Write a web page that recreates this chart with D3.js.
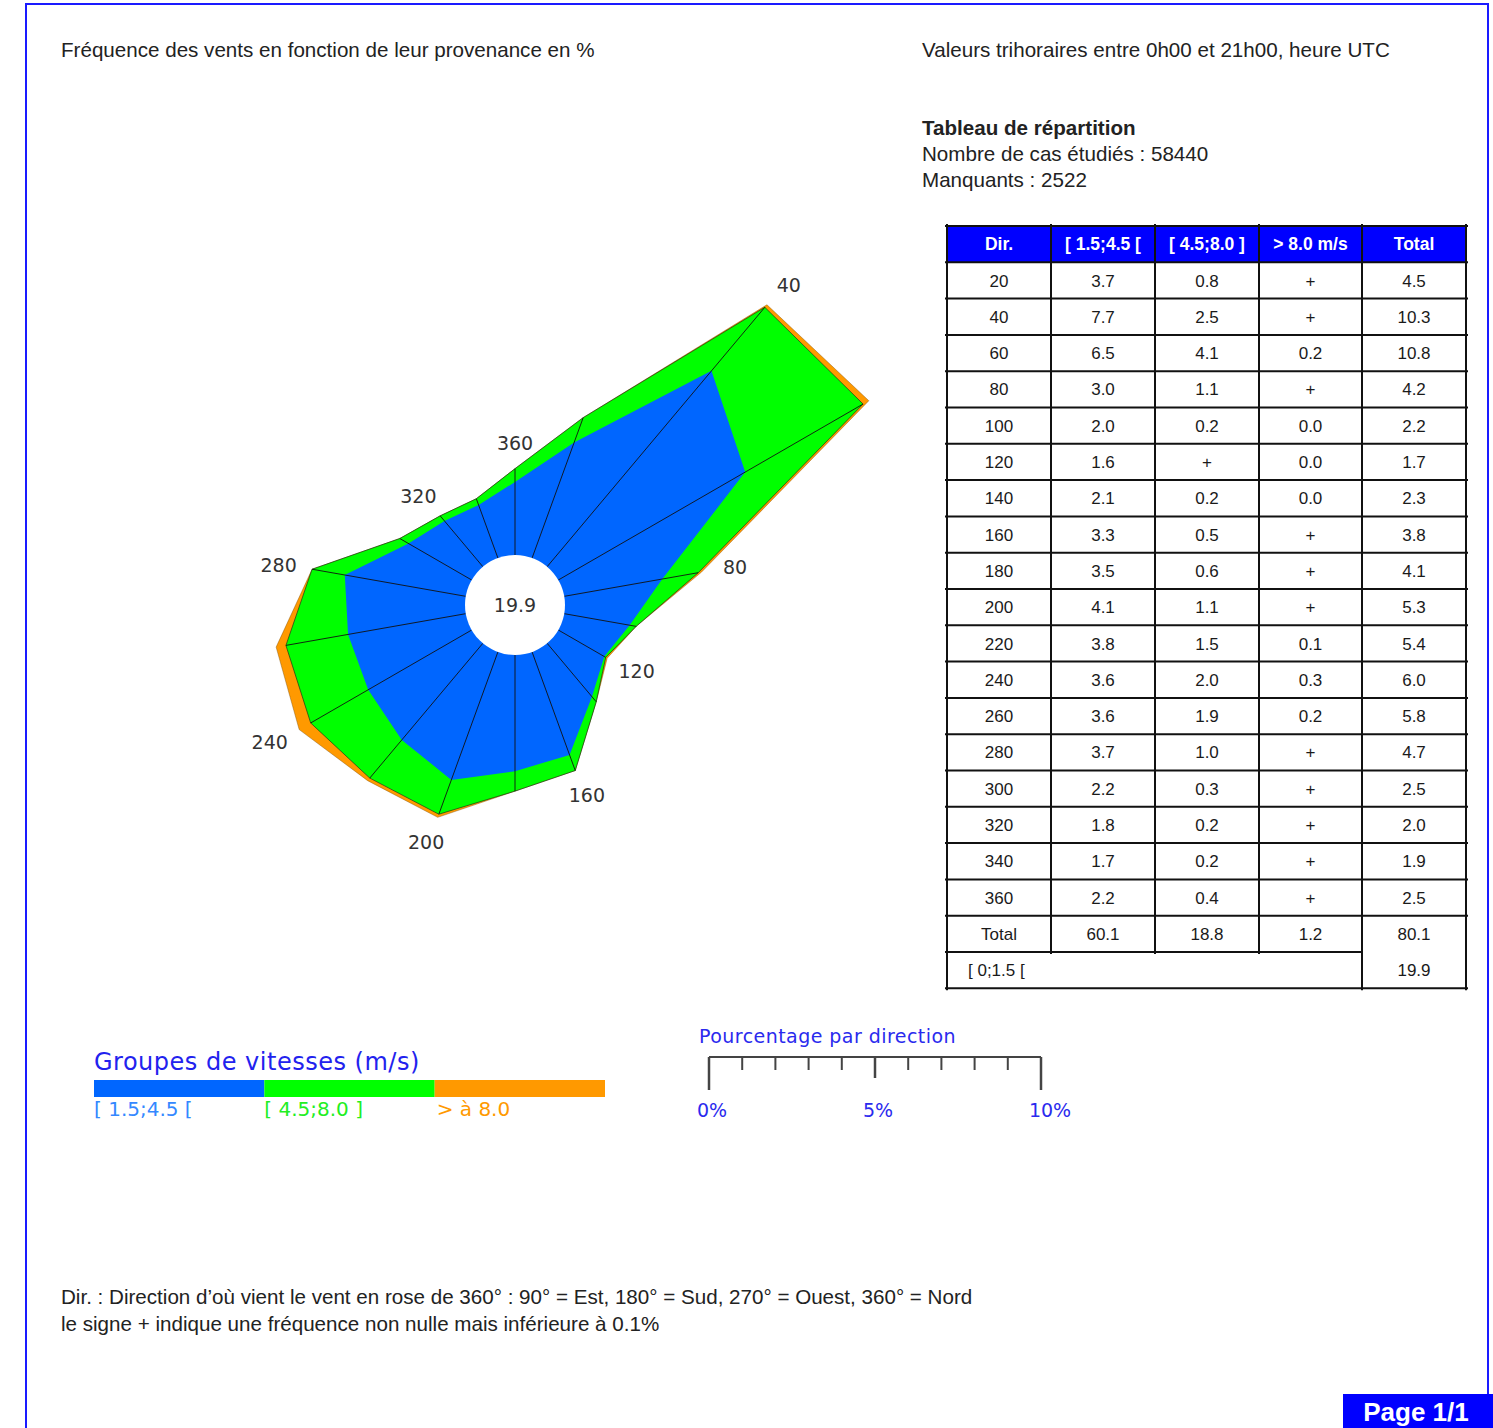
<!DOCTYPE html>
<html><head><meta charset="utf-8">
<script src="https://cdn.jsdelivr.net/npm/d3@7"></script>
<style>
html,body{margin:0;padding:0;background:#fff;}
svg{display:block;}
</style></head>
<body>
<script>
// ---------------- DATA ----------------
const directions = [20,40,60,80,100,120,140,160,180,200,220,240,260,280,300,320,340,360];
const speedLow   = ["3.7","7.7","6.5","3.0","2.0","1.6","2.1","3.3","3.5","4.1","3.8","3.6","3.6","3.7","2.2","1.8","1.7","2.2"];
const speedMid   = ["0.8","2.5","4.1","1.1","0.2","+","0.2","0.5","0.6","1.1","1.5","2.0","1.9","1.0","0.3","0.2","0.2","0.4"];
const speedHigh  = ["+","+","0.2","+","0.0","0.0","0.0","+","+","+","0.1","0.3","0.2","+","+","+","+","+"];
const totals     = ["4.5","10.3","10.8","4.2","2.2","1.7","2.3","3.8","4.1","5.3","5.4","6.0","5.8","4.7","2.5","2.0","1.9","2.5"];
const columnTotals = ["Total","60.1","18.8","1.2","80.1"];
const calmLabel = "[ 0;1.5 [";
const calmValue = "19.9";
const headers = ["Dir.","[ 1.5;4.5 [","[ 4.5;8.0 ]","> 8.0 m/s","Total"];
const roseLabels = [40,80,120,160,200,240,280,320,360];
const speedGroups = ["[ 1.5;4.5 [","[ 4.5;8.0 ]","> à 8.0"];
const scaleTicks = [0,1,2,3,4,5,6,7,8,9,10];
const scaleLabels = [0,5,10];
// ---------------------------------------

const W = 1493, H = 1428;
const num = s => s === "+" ? 0.05 : +s;
const blue = "#0066ff", green = "#00ff00", orange = "#ff9900";
const svg = d3.select("body").append("svg").attr("width", W).attr("height", H);

// frame
svg.append("rect").attr("x",26).attr("y",4).attr("width",1462).attr("height",1440)
  .attr("fill","none").attr("stroke","#1a1aff").attr("stroke-width",2);

const sans = "'Liberation Sans', Arial, sans-serif";
const dv = "'DejaVu Sans', Verdana, sans-serif";
const fs = 20.6;

function txt(x, y, s, bold){
  return svg.append("text").attr("x",x).attr("y",y).attr("font-family",sans).attr("font-size",fs)
    .attr("font-weight", bold ? "bold" : "normal").attr("fill","#222").text(s);
}
txt(61,57,"Fréquence des vents en fonction de leur provenance en %");
txt(922,57,"Valeurs trihoraires entre 0h00 et 21h00, heure UTC");
txt(922,135,"Tableau de répartition",true);
txt(922,161,"Nombre de cas étudiés : 58440");
txt(922,187,"Manquants : 2522");

// ---------------- ROSE ----------------
const cx = 515, cy = 605;
const r = d3.scaleLinear().domain([0,10]).range([50, 382]);
const rose = directions.map((d,i) => {
  const lo = num(speedLow[i]), mi = num(speedMid[i]), tot = num(totals[i]);
  return {dir:d, a: d*Math.PI/180, lo, lm: lo+mi, tot: Math.max(tot, lo+mi)};
});
const g = svg.append("g").attr("transform",`translate(${cx},${cy})`);
const radial = key => d3.lineRadial().angle(d=>d.a).radius(d=>r(d[key])).curve(d3.curveLinearClosed);
g.append("path").attr("d", radial("tot")(rose)).attr("fill",orange).attr("stroke","#7a4a00").attr("stroke-width",0.6).attr("stroke-opacity",0.7);
g.append("path").attr("d", radial("lm")(rose)).attr("fill",green).attr("stroke","#1a3a1a").attr("stroke-width",0.7);
g.append("path").attr("d", radial("lo")(rose)).attr("fill",blue);
g.selectAll("line.rad").data(rose).join("line").attr("class","rad")
  .attr("x1",d=>Math.sin(d.a)*r(0)).attr("y1",d=>-Math.cos(d.a)*r(0))
  .attr("x2",d=>Math.sin(d.a)*r(d.lm)).attr("y2",d=>-Math.cos(d.a)*r(d.lm))
  .attr("stroke","#111").attr("stroke-width",0.9);
g.append("circle").attr("r",r(0)).attr("fill","#fff");
g.append("text").attr("text-anchor","middle").attr("dy","0.36em").attr("font-family",dv).attr("font-size",19)
  .attr("fill","#333").text(calmValue);
// labels: offset beyond the outer vertex (wider horizontally than vertically)
const offH = 34, offV = 26;
g.selectAll("text.lab").data(rose.filter(d=>roseLabels.includes(d.dir))).join("text").attr("class","lab")
  .attr("x",d=>Math.sin(d.a)*(r(d.tot)+offH)).attr("y",d=>-Math.cos(d.a)*(r(d.tot)+offV))
  .attr("text-anchor","middle").attr("dy","0.36em").attr("font-family",dv).attr("font-size",19)
  .attr("fill","#333").text(d=>d.dir);

// ---------------- TABLE ----------------
const colX = [947,1051,1155,1259,1362,1466];
const tTop = 226, rowH = 36.3;
const tfs = 17;
const tbl = svg.append("g");
tbl.append("rect").attr("x",colX[0]).attr("y",tTop).attr("width",colX[5]-colX[0]).attr("height",rowH).attr("fill","#0000ff");
headers.forEach((h,j)=>{
  tbl.append("text").attr("x",(colX[j]+colX[j+1])/2).attr("y",tTop+rowH/2).attr("dy","0.36em")
    .attr("text-anchor","middle").attr("font-family",sans).attr("font-size",17.5).attr("font-weight","bold")
    .attr("fill","#fff").text(h);
});
const rows = directions.map((d,i)=>[String(d), speedLow[i], speedMid[i], speedHigh[i], totals[i]]);
rows.push(columnTotals);
rows.forEach((row,i)=>{
  row.forEach((v,j)=>{
    tbl.append("text").attr("x",(colX[j]+colX[j+1])/2).attr("y",tTop+rowH*(i+1.5)).attr("dy","0.36em")
      .attr("text-anchor","middle").attr("font-family",sans).attr("font-size",tfs).attr("fill","#1a1a1a").text(v);
  });
});
const calmRow = rows.length+1;
tbl.append("text").attr("x",colX[0]+21).attr("y",tTop+rowH*(calmRow+0.5)).attr("dy","0.36em")
  .attr("font-family",sans).attr("font-size",tfs).attr("fill","#1a1a1a").text(calmLabel);
tbl.append("text").attr("x",(colX[4]+colX[5])/2).attr("y",tTop+rowH*(calmRow+0.5)).attr("dy","0.36em")
  .attr("text-anchor","middle").attr("font-family",sans).attr("font-size",tfs).attr("fill","#1a1a1a").text(calmValue);
const nLines = calmRow+2;
const bottomY = tTop + rowH*(calmRow+1);
for(let k=0;k<nLines;k++){
  const y = tTop + rowH*k;
  tbl.append("line").attr("x1",colX[0]-2).attr("x2",(k===calmRow)?colX[4]:colX[5]+2).attr("y1",y).attr("y2",y)
    .attr("stroke","#111").attr("stroke-width",2);
}
colX.forEach((x,j)=>{
  const y2 = (j===0||j===4||j===5) ? bottomY : tTop + rowH*calmRow;
  tbl.append("line").attr("x1",x).attr("x2",x).attr("y1",tTop-2).attr("y2",y2+2)
    .attr("stroke","#111").attr("stroke-width",2);
});

// ---------------- LEGEND ----------------
const legColors = [blue, green, orange];
const labColors = ["#3388ff","#22ee22","#ff9900"];
const legX = d3.scaleLinear().domain([0,3]).range([94,605]);
svg.append("text").attr("x",94).attr("y",1070).attr("font-family",dv).attr("font-size",24)
  .attr("letter-spacing",0.5).attr("fill","#2222ee").text("Groupes de vitesses (m/s)");
speedGroups.forEach((s,i)=>{
  svg.append("rect").attr("x",legX(i)).attr("y",1080).attr("width",legX(i+1)-legX(i)).attr("height",17).attr("fill",legColors[i]);
  svg.append("text").attr("x",legX(i)+(i===2?2:0)).attr("y",1116).attr("font-family",dv).attr("font-size",20)
    .attr("fill",labColors[i]).text(s);
});

// ---------------- SCALE ----------------
const sx = d3.scaleLinear().domain([0,10]).range([709, 1041]);
svg.append("text").attr("x",699).attr("y",1043).attr("font-family",dv).attr("font-size",19)
  .attr("letter-spacing",0.45).attr("fill","#2a2aee").text("Pourcentage par direction");
svg.append("line").attr("x1",sx(0)).attr("x2",sx(10)).attr("y1",1057).attr("y2",1057).attr("stroke","#444").attr("stroke-width",2);
svg.selectAll("line.tick").data(scaleTicks).join("line").attr("class","tick")
  .attr("x1",d=>sx(d)).attr("x2",d=>sx(d)).attr("y1",1057)
  .attr("y2",d=> (d===0||d===10) ? 1090 : d===5 ? 1078 : 1070)
  .attr("stroke","#444").attr("stroke-width",d=> (d%5===0)?2.5:2);
svg.selectAll("text.sl").data(scaleLabels).join("text").attr("class","sl")
  .attr("x",d=>sx(d)+(d===10?9:3)).attr("y",1117).attr("text-anchor","middle")
  .attr("font-family",dv).attr("font-size",19).attr("fill","#2a2aee").text(d=>d+"%");

// ---------------- FOOTER ----------------
txt(61,1304,"Dir. : Direction d’où vient le vent en rose de 360° : 90° = Est, 180° = Sud, 270° = Ouest, 360° = Nord");
txt(61,1331,"le signe + indique une fréquence non nulle mais inférieure à 0.1%");

svg.append("rect").attr("x",1343).attr("y",1394).attr("width",150).attr("height",40).attr("fill","#0000ff");
svg.append("text").attr("x",1416).attr("y",1421).attr("text-anchor","middle").attr("font-family",sans)
  .attr("font-size",26).attr("font-weight","bold").attr("fill","#fff").text("Page 1/1");
</script>
</body></html>
